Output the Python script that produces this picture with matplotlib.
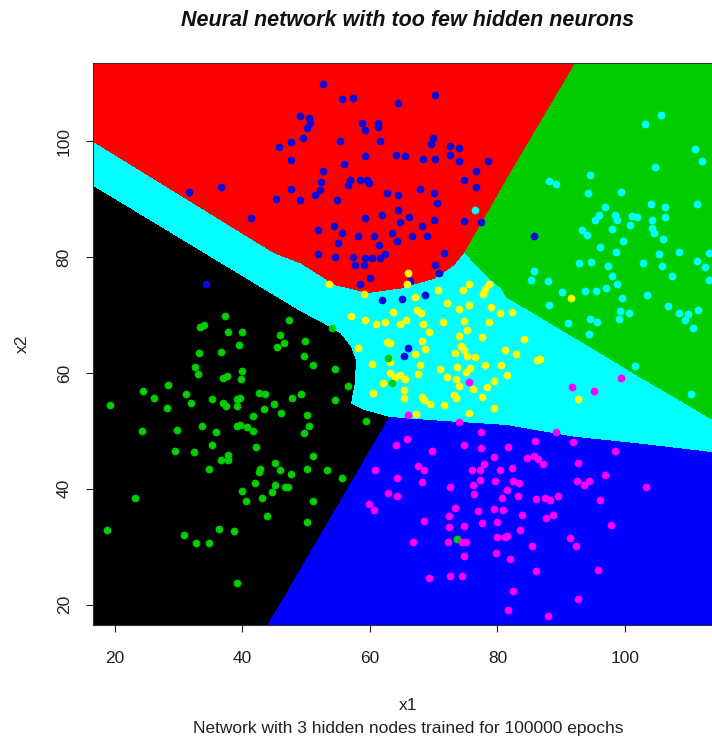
import numpy as np
import matplotlib
matplotlib.use("Agg")
import matplotlib.pyplot as plt
from matplotlib.path import Path
from matplotlib.colors import ListedColormap

plt.rcParams['font.family'] = ['Liberation Sans', 'DejaVu Sans']

# ---------------------------------------------------------------------------
# Training data: five classes in the (x1, x2) plane
# ---------------------------------------------------------------------------
blue_x1 = [47.6, 45.7, 47.6, 47.6, 45.2, 36.6, 31.6, 41.4,
           52.6, 55.6, 57.4, 64.4, 70.2, 49.05, 50.4, 50.6, 50.1, 49.5, 58.8, 59.2,
           61.3, 61.2, 55.3, 61.5, 69.9, 69.6, 72.6, 74.0, 72.6, 74.0, 78.5, 59.2,
           64.1, 65.5, 68.3, 70.2, 56.0, 52.6, 76.7, 74.7, 76.7, 52.3, 56.8, 58.4,
           59.5, 59.8, 56.6, 52.2, 51.4, 49.05, 54.8, 62.7, 64.4, 67.8, 70.1, 70.5,
           64.4, 59.2, 61.9, 66.2, 64.7, 70.1, 74.8, 77.4, 51.9, 54.4, 55.6, 58.1,
           60.7, 63.5, 64.2, 66.6, 68.1, 68.9, 55.0, 61.4,
           51.9, 54.5, 57.4, 57.7, 59.0, 59.2, 60.3, 61.6, 62.4, 58.5, 60.0, 70.2,
           70.8, 66.3, 71.6, 61.9, 65.1, 68.7, 66.0, 65.3, 34.3, 85.8]
blue_x2 = [99.8, 99.0, 96.8, 91.7, 90.0, 92.1, 91.2, 86.7,
           109.9, 107.3, 107.5, 106.6, 108.0, 104.3, 104.0, 103.2, 102.3, 100.5, 103.1, 101.9,
           103.1, 102.4, 100.1, 100.0, 100.5, 99.6, 99.2, 98.8, 97.7, 96.5, 96.6, 97.4,
           97.6, 97.4, 97.0, 97.0, 96.1, 94.9, 94.9, 93.3, 92.1, 92.9, 93.3, 93.3,
           93.3, 92.8, 92.5, 91.6, 90.8, 89.9, 89.8, 91.0, 90.8, 91.8, 91.0, 89.4,
           88.2, 86.7, 87.2, 87.0, 86.0, 86.4, 86.3, 86.0, 84.7, 85.3, 84.1, 83.7,
           83.7, 84.1, 82.7, 83.6, 85.3, 83.6, 82.5, 82.1,
           80.5, 80.0, 80.0, 78.6, 78.6, 79.8, 79.8, 79.8, 80.5, 75.4, 76.4, 78.6,
           77.2, 75.8, 80.7, 72.6, 72.7, 73.5, 64.3, 62.9, 75.4, 83.7]

cyan_x1 = [105.6, 103.1, 110.9, 112.0, 104.7, 94.5, 88.0, 89.2, 94.2, 99.4, 104.1,
           106.3, 111.3, 96.8, 95.9, 95.3, 98.5, 98.8, 101.1, 101.8, 104.3, 106.3,
           100.8, 98.0, 104.2, 104.6, 93.3, 94.0, 99.7, 106.0, 96.1,
           98.6, 105.3, 108.4, 113.2, 92.8, 94.7, 97.3, 102.8, 105.8, 111.3, 112.5,
           85.7, 85.3, 87.9, 97.9, 107.4, 113.2, 98.8, 97.0, 90.1, 93.7, 95.4, 103.4,
           99.5, 88.1, 106.8, 111.4, 99.2, 100.6, 108.4, 109.9, 99.0, 109.4, 110.6,
           91.1, 94.5, 95.6, 94.4, 101.5, 110.4, 76.4]
cyan_x2 = [104.5, 102.9, 98.6, 96.5, 95.6, 94.1, 93.2, 92.7, 91.0, 91.3, 89.2,
           88.7, 89.2, 88.6, 87.3, 86.4, 87.3, 86.4, 87.1, 87.0, 86.4, 87.0,
           85.5, 84.9, 85.0, 84.1, 84.6, 83.8, 82.7, 83.1, 81.7,
           80.9, 80.5, 80.9, 80.7, 79.0, 79.2, 78.4, 79.0, 78.4, 79.4, 78.3,
           77.6, 76.1, 75.8, 76.7, 76.7, 76.1, 75.3, 74.7, 73.9, 74.1, 74.1, 73.5,
           72.9, 71.8, 71.6, 70.9, 70.7, 70.4, 70.3, 70.1, 69.4, 69.1, 67.8,
           68.6, 69.4, 68.8, 66.7, 61.2, 56.4, 88.2]

yellow_x1 = [65.9, 65.8, 53.6, 59.1, 67.1, 70.6, 75.5, 74.6, 78.6, 78.1, 77.7, 72.1,
             75.5, 74.0, 79.0, 80.4, 67.4, 68.0, 63.6, 57.0, 59.2, 61.0, 62.3, 64.7,
             65.7, 68.3, 71.5, 74.8, 75.2, 78.6, 69.2, 73.9, 77.6, 62.6, 63.1, 68.1,
             68.7, 67.1, 58.2, 74.2, 74.7, 73.3, 75.2, 76.4, 81.1, 60.3, 63.2, 67.8,
             67.6, 71.0, 73.6, 78.1, 80.5, 63.2, 64.0, 64.7, 65.5, 62.1, 72.1, 73.5,
             75.1, 75.7, 73.9, 76.2, 77.5, 78.3, 79.4, 60.5, 65.4, 65.3, 68.1, 68.5,
             73.2, 73.5, 69.4, 71.6, 75.6, 79.5, 67.2,
             91.5, 82.2, 84.1, 82.9, 86.2, 86.7, 81.5, 92.6]
yellow_x2 = [77.3, 75.3, 75.4, 73.7, 73.1, 74.3, 75.4, 74.3, 75.3, 74.5, 73.6, 72.0,
             71.8, 71.0, 71.4, 70.3, 70.8, 70.3, 70.5, 69.9, 69.1, 68.4, 68.8, 68.4,
             69.1, 68.4, 68.8, 69.0, 67.4, 68.8, 67.1, 66.3, 66.2, 65.4, 65.2, 65.5,
             64.2, 63.2, 64.3, 64.6, 63.9, 63.5, 62.9, 62.7, 64.0, 61.6, 61.9, 61.3,
             59.9, 60.6, 61.0, 61.3, 61.3, 60.0, 59.3, 59.6, 59.0, 58.3, 59.3, 59.0,
             60.2, 60.8, 57.7, 57.3, 55.9, 57.6, 58.7, 56.6, 57.1, 55.6, 55.9, 55.4,
             56.2, 55.6, 54.6, 54.4, 53.1, 54.0, 53.0,
             73.0, 70.5, 65.9, 63.2, 62.2, 62.4, 59.6, 55.5]

green_x1 = [37.2, 33.3, 34.0, 37.8, 40.0, 47.3, 45.9, 46.5, 45.4, 39.4, 36.6, 33.2,
            32.5, 33.1, 37.0, 37.6, 40.0, 39.8, 28.4, 24.4, 26.1, 31.2, 31.9, 28.2,
            35.3, 37.0, 37.4, 39.1, 39.6, 39.1, 42.6, 43.5, 43.4, 45.0, 46.0, 47.8,
            41.7, 19.2, 24.3, 29.8, 33.7, 35.8, 39.2, 39.6, 40.8, 41.6,
            29.4, 32.4, 35.3, 37.8, 37.8, 36.6, 34.8, 42.1, 45.1, 42.7, 42.6, 45.9,
            47.6, 42.0, 45.1, 46.7, 47.2, 40.0, 44.7, 40.5, 43.0, 43.9, 23.2, 18.7,
            30.8, 32.7, 34.8, 36.4, 38.7, 39.2,
            54.0, 62.8, 63.5, 49.8, 49.6, 51.1, 54.5, 56.5, 54.5, 49.2, 50.1, 50.5,
            49.7, 59.4, 51.1, 50.1, 53.3, 55.6, 51.0, 50.1, 73.6]
green_x2 = [69.8, 67.9, 68.2, 67.1, 67.1, 69.2, 66.6, 65.1, 64.5, 64.9, 63.7, 63.5,
            61.0, 59.9, 59.2, 59.5, 60.3, 59.0, 57.9, 56.9, 55.7, 56.3, 54.9, 54.0,
            55.5, 54.8, 54.3, 55.5, 55.7, 54.3, 56.6, 56.4, 53.7, 54.6, 53.1, 55.7,
            52.6, 54.5, 49.9, 50.1, 50.8, 49.8, 50.8, 51.1, 50.7, 49.9,
            46.6, 46.3, 47.6, 45.9, 45.0, 44.9, 43.4, 47.2, 44.5, 43.4, 42.9, 43.2,
            42.6, 41.0, 40.7, 40.3, 40.4, 39.7, 39.4, 37.9, 38.4, 35.3, 38.5, 32.9,
            32.1, 30.6, 30.7, 33.1, 32.7, 23.7,
            67.8, 62.5, 58.2, 65.5, 62.9, 61.3, 60.6, 57.8, 55.3, 56.3, 52.8, 50.9,
            49.6, 51.7, 45.6, 43.4, 43.2, 41.9, 37.9, 34.2, 31.3]

magenta_x1 = [75.6, 99.4, 91.7, 95.2, 89.1, 66.0, 73.9, 77.4,
              64.1, 65.8, 74.8, 77.4, 69.8, 67.5, 68.5, 60.8, 64.2, 68.1, 76.0, 77.3,
              77.9, 79.5, 80.4, 77.2, 76.1, 79.6, 72.6, 62.9, 64.2, 76.3, 80.7, 59.8,
              60.7, 73.3, 77.0, 79.5, 80.8, 72.4, 68.4, 74.7, 77.5, 79.9, 72.4, 79.9,
              81.1, 66.8, 72.2, 74.4, 75.0, 74.7, 79.7, 69.3, 72.6, 74.4,
              85.9, 91.8, 98.5, 81.6, 84.6, 85.7, 86.4, 87.1, 82.3, 92.7, 96.8, 103.3,
              82.5, 83.3, 92.5, 93.6, 94.4, 81.5, 83.2, 86.1, 87.4, 88.2, 89.5, 96.1,
              83.8, 87.6, 88.7, 97.8, 83.6, 81.5, 85.4, 91.3, 92.3, 82.0, 86.1, 95.7,
              82.4, 92.6, 81.7, 87.9]
magenta_x2 = [58.5, 59.2, 57.5, 56.9, 49.8, 52.8, 51.5, 49.8,
              47.6, 48.6, 47.6, 47.1, 46.5, 43.9, 43.2, 43.2, 41.9, 41.1, 43.2, 43.2,
              44.3, 45.5, 43.2, 41.5, 40.7, 41.3, 40.4, 39.3, 38.7, 39.1, 38.5, 37.4,
              36.4, 36.7, 36.1, 36.5, 36.4, 35.3, 34.5, 33.6, 34.1, 34.3, 33.4, 31.7,
              31.7, 30.8, 30.9, 30.8, 30.8, 28.4, 28.9, 24.6, 24.9, 24.9,
              48.3, 48.0, 46.6, 47.2, 45.3, 45.7, 45.2, 44.3, 43.6, 44.5, 42.4, 40.4,
              41.3, 41.0, 41.4, 40.7, 41.4, 39.8, 38.7, 38.3, 38.5, 38.1, 38.7, 38.1,
              35.5, 34.9, 35.5, 33.8, 32.9, 31.8, 30.2, 31.6, 30.2, 27.9, 25.9, 26.0,
              22.3, 21.0, 19.1, 18.0]

# ---------------------------------------------------------------------------
# Decision boundaries of the trained 3-hidden-node network
# ---------------------------------------------------------------------------
red_cyan_x1 = [16.5, 44.8, 49.05, 54.3, 59.5, 64.7, 70.0, 73.1, 74.7]
red_cyan_x2 = [99.9, 80.7, 78.9, 75.2, 73.8, 74.6, 76.3, 78.6, 80.8]

red_green_x1 = [74.7, 81.2, 91.7, 95.5]
red_green_x2 = [80.8, 93.3, 112.9, 120.0]

green_cyan_x1 = [74.7, 76.2, 78.3, 80.4, 81.3, 86.4, 91.7, 96.9, 102.1, 107.4, 113.7, 120.0]
green_cyan_x2 = [80.8, 78.9, 76.6, 74.6, 73.0, 69.7, 66.2, 62.8, 59.3, 55.9, 51.8, 47.7]

black_cyan_x1 = [16.5, 33.6, 49.05, 52.2, 55.3, 56.9, 57.7, 57.5, 56.9, 59.0, 62.9]
black_cyan_x2 = [92.3, 80.9, 70.6, 68.8, 66.8, 64.5, 62.2, 58.2, 54.7, 53.6, 52.4]

black_blue_x1 = [62.9, 43.8, 40.6]
black_blue_x2 = [52.4, 16.4, 10.0]

cyan_blue_x1 = [62.9, 70.0, 81.3, 91.7, 102.1, 113.7, 120.0]
cyan_blue_x2 = [52.4, 51.8, 51.0, 49.0, 47.8, 46.3, 45.5]

region_colors = ["#00FFFF", "#FF0000", "#00CD00", "#000000", "#0000FF"]

X_LIM = (16.5, 115.2)
Y_LIM = (16.5, 113.5)

# ---------------------------------------------------------------------------
# Build the classified grid
# ---------------------------------------------------------------------------
LO, HI = 10.0, 120.0


def pts(xs, ys):
    return list(zip(xs, ys))


rc = pts(red_cyan_x1, red_cyan_x2)
rg = pts(red_green_x1, red_green_x2)
gc = pts(green_cyan_x1, green_cyan_x2)
kc = pts(black_cyan_x1, black_cyan_x2)
kb = pts(black_blue_x1, black_blue_x2)
cb = pts(cyan_blue_x1, cyan_blue_x2)

poly_red = [(LO, rc[0][1])] + rc + rg[1:] + [(LO, HI)]
poly_green = rg + [(HI, HI)] + gc[::-1]
poly_black = [(LO, kc[0][1])] + kc + kb[1:] + [(LO, LO)]
poly_blue = kb + [(HI, LO)] + cb[::-1]

nx, ny = 630, 562
gx = np.linspace(X_LIM[0], X_LIM[1], nx)
gy = np.linspace(Y_LIM[0], Y_LIM[1], ny)
GX, GY = np.meshgrid(gx, gy)
grid_pts = np.column_stack([GX.ravel(), GY.ravel()])

labels = np.zeros(GX.size, dtype=int)  # cyan by default
for k, poly in [(1, poly_red), (2, poly_green), (3, poly_black), (4, poly_blue)]:
    inside = Path(poly).contains_points(grid_pts)
    labels[inside] = k
labels = labels.reshape(GX.shape)

# ---------------------------------------------------------------------------
# Figure
# ---------------------------------------------------------------------------
W, H = 712, 742
fig = plt.figure(figsize=(W / 100, H / 100), dpi=100)
ax = fig.add_axes([92.5 / W, 1 - 625 / H, (722 - 92.5) / W, (625 - 63) / H])

dx = (X_LIM[1] - X_LIM[0]) / (nx - 1) / 2
dy = (Y_LIM[1] - Y_LIM[0]) / (ny - 1) / 2
ax.imshow(labels, origin="lower", cmap=ListedColormap(region_colors),
          vmin=-0.5, vmax=4.5, interpolation="nearest", aspect="auto",
          extent=[X_LIM[0] - dx, X_LIM[1] + dx, Y_LIM[0] - dy, Y_LIM[1] + dy],
          zorder=1)

ms = 31
ax.scatter(blue_x1, blue_x2, s=ms, c="#0A0ADC", linewidths=0, zorder=3)
ax.scatter(cyan_x1, cyan_x2, s=ms, c="#00FFFF", linewidths=0, zorder=3)
ax.scatter(yellow_x1, yellow_x2, s=ms, c="#FFFF00", linewidths=0, zorder=3)
ax.scatter(green_x1, green_x2, s=ms, c="#00CD00", linewidths=0, zorder=3)
ax.scatter(magenta_x1, magenta_x2, s=ms, c="#FF00FF", linewidths=0, zorder=3)

ax.set_xlim(*X_LIM)
ax.set_ylim(*Y_LIM)

ticks = [20, 40, 60, 80, 100]
ax.set_xticks(ticks)
ax.set_yticks(ticks)
ax.set_xticklabels([str(t) for t in ticks])
ax.set_yticklabels([str(t) for t in ticks], rotation=90, va="center")
ax.tick_params(axis="both", direction="out", length=5, width=0.8,
               labelsize=12.5, colors="#222222")
ax.tick_params(axis="x", pad=14)
ax.tick_params(axis="y", pad=10)

for side in ["top", "bottom", "left"]:
    ax.spines[side].set_color("#333333")
    ax.spines[side].set_linewidth(0.8)
ax.spines["right"].set_visible(False)

fig.text(408 / W, 1 - 20 / H, "Neural network with too few hidden neurons",
         ha="center", va="center", fontsize=15.5, fontweight="bold",
         fontstyle="italic", color="#111111")
fig.text(408 / W, 1 - 705 / H, "x1", ha="center", va="center",
         fontsize=12.5, color="#222222")
fig.text(408 / W, 1 - 728 / H, "Network with 3 hidden nodes trained for 100000 epochs",
         ha="center", va="center", fontsize=12.5, color="#222222")
fig.text(22 / W, 1 - 344 / H, "x2", ha="center", va="center", rotation=90,
         fontsize=12.5, color="#222222")

fig.savefig("out.png", dpi=100)
